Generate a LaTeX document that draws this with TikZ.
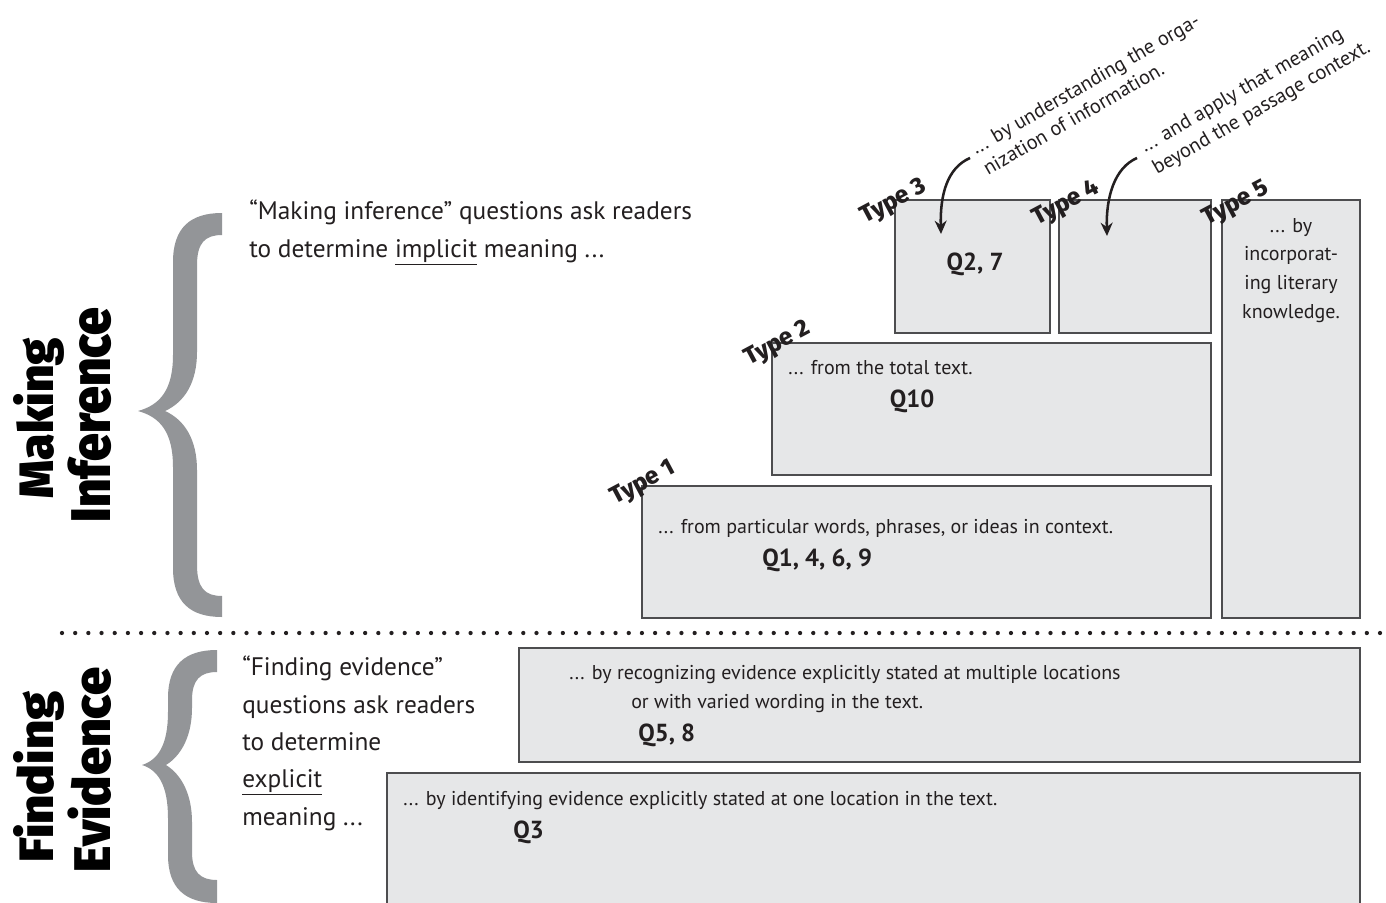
\documentclass[tikz,border=0pt]{standalone}
\usepackage{fontspec}
\usetikzlibrary{arrows.meta}
\setmainfont{PT Sans}
\IfFontExistsTF{Fira Sans Black}{\newfontfamily\heavyfont{Fira Sans Black}}{\newfontfamily\heavyfont{DejaVu Sans}[UprightFont=* Bold]}
\IfFontExistsTF{Fira Sans ExtraBold}{\newfontfamily\typefont{Fira Sans ExtraBold}}{\newfontfamily\typefont{PT Sans}[UprightFont=* Bold]}
\definecolor{txt}{HTML}{231F20}
\definecolor{boxfill}{HTML}{E6E7E8}
\definecolor{boxline}{HTML}{4D4D4F}
\definecolor{bracegray}{HTML}{939598}
\tikzset{
  ibox/.style={draw=boxline, fill=boxfill, line width=1pt},
  body/.style={font=\fontsize{19}{22}\selectfont, text=txt, inner sep=0pt, anchor=base west},
  boxtxt/.style={font=\fontsize{15}{18}\selectfont, text=txt, inner sep=0pt, anchor=base west},
  ctrtxt/.style={font=\fontsize{15}{18}\selectfont, text=txt, inner sep=0pt, anchor=base},
  qtxt/.style={font=\bfseries\fontsize{18.5}{21}\selectfont, text=txt, inner sep=0pt, anchor=base west},
  typelbl/.style={font=\typefont\fontsize{18}{20}\selectfont, text=txt, rotate=28, anchor=base west, inner sep=0pt},
  slanttxt/.style={font=\fontsize{15.3}{18}\selectfont, text=txt, rotate=30, anchor=base west, inner sep=0pt},
  titletxt/.style={rotate=90, anchor=base, inner sep=0pt, text=black},
  bracefill/.style={fill=bracegray},
  pointer/.style={draw=txt, line width=1.9pt, -{Stealth[length=10pt,width=9pt]}},
  dotline/.style={draw=txt, line width=3.2pt, line cap=round, dash pattern=on 0pt off 9.885pt}
}
\begin{document}
\begin{tikzpicture}[x=0.75pt,y=-0.75pt]
\fill[white] (0,0) rectangle (1386,903);
\useasboundingbox (0,0) rectangle (1386,903);

% titles
\node[titletxt] (making) at (53,418) {\resizebox{120pt}{30pt}{\heavyfont Making}};
\node[titletxt] (inference) at (110,415) {\resizebox{160.5pt}{32pt}{\heavyfont Inference}};
\node[titletxt] (finding) at (53,777) {\resizebox{128pt}{30pt}{\heavyfont Finding}};
\node[titletxt] (evidence) at (110,770) {\resizebox{153pt}{32pt}{\heavyfont Evidence}};

% braces
\fill[bracefill] (222,213) .. controls (190,213) and (173,228) .. (173,262)
  -- (173,355) .. controls (173,390) and (160,405) .. (138,411)
  .. controls (160,417) and (173,432) .. (173,467)
  -- (173,568) .. controls (173,602) and (190,617) .. (222,617)
  -- (222,596) .. controls (205,596) and (197,588) .. (197,565)
  -- (197,470) .. controls (197,440) and (185,420) .. (165,411)
  .. controls (185,402) and (197,382) .. (197,352)
  -- (197,265) .. controls (197,243) and (205,235) .. (222,235) -- cycle;
\fill[bracefill] (217,650) .. controls (185,650) and (168,665) .. (168,698)
  -- (168,712) .. controls (168,745) and (158,760) .. (142,765)
  .. controls (158,770) and (168,785) .. (168,818)
  -- (168,855) .. controls (168,888) and (185,903) .. (217,903)
  -- (217,880) .. controls (200,880) and (192,872) .. (192,852)
  -- (192,822) .. controls (192,795) and (182,775) .. (166,765)
  .. controls (182,755) and (192,735) .. (192,708)
  -- (192,700) .. controls (192,680) and (200,672) .. (217,672) -- cycle;

% intro texts
\node[body] (mi1) at (249,219) {“Making inference” questions ask readers};
\node[body] (mi2) at (249,257) {to determine \underline{implicit} meaning ...};
\node[body] (fe1) at (242,675) {“Finding evidence”};
\node[body] (fe2) at (242,713) {questions ask readers};
\node[body] (fe3) at (242,750) {to determine};
\node[body] (fe4) at (242,787) {\underline{explicit}};
\node[body] (fe5) at (242,825) {meaning ...};

% divider
\coordinate (divL) at (62,633);
\coordinate (divR) at (1380,633);
\draw[dotline] (divL) -- (divR);

% boxes
\path[ibox] (895,200) rectangle (1050,333);
\path[ibox] (1059,200) rectangle (1211,333);
\path[ibox] (1222,200) rectangle (1360,618);
\path[ibox] (772,343) rectangle (1211,475);
\path[ibox] (642,486) rectangle (1211,618);
\path[ibox] (519,648) rectangle (1360,762);
\path[ibox] (387,773) rectangle (1360,912);

% box texts
\node[qtxt, anchor=base] (q27) at (975,270) {Q2, 7};
\node[ctrtxt] (t5a) at (1291,232) {... by};
\node[ctrtxt] (t5b) at (1291,260) {incorporat-};
\node[ctrtxt] (t5c) at (1291,289) {ing literary};
\node[ctrtxt] (t5d) at (1291,318) {knowledge.};
\node[boxtxt] (t2a) at (788,374) {... from the total text.};
\node[qtxt, anchor=base] (q10) at (912,407) {Q10};
\node[boxtxt] (t1a) at (658,533) {... from particular words, phrases, or ideas in context.};
\node[qtxt] (q1469) at (762,566) {Q1, 4, 6, 9};
\node[boxtxt] (fa1) at (569,679) {... by recognizing evidence explicitly stated at multiple locations};
\node[boxtxt] (fa2) at (631,708) {or with varied wording in the text.};
\node[qtxt] (q58) at (638,741) {Q5, 8};
\node[boxtxt] (fb1) at (403,805) {... by identifying evidence explicitly stated at one location in the text.};
\node[qtxt] (q3) at (513,838) {Q3};

% type labels
\node[typelbl] (ty1) at (615,505) {Type 1};
\node[typelbl] (ty2) at (749,366) {Type 2};
\node[typelbl] (ty3) at (865,224) {Type 3};
\node[typelbl] (ty4) at (1037,226) {Type 4};
\node[typelbl] (ty5) at (1207,226) {Type 5};

% slanted annotations
\node[slanttxt] (s3a) at (976,155) {... by understanding the orga-};
\node[slanttxt] (s3b) at (988,176) {nization of information.};
\node[slanttxt] (s4a) at (1145,153) {... and apply that meaning};
\node[slanttxt] (s4b) at (1157,175) {beyond the passage context.};

% pointers
\coordinate (p3s) at (970,158);
\coordinate (p3e) at (941,234);
\coordinate (p4s) at (1137,158);
\coordinate (p4e) at (1107,236);
\draw[pointer] (p3s) .. controls (947,168) and (940,195) .. (p3e);
\draw[pointer] (p4s) .. controls (1114,168) and (1106,198) .. (p4e);
\end{tikzpicture}
\end{document}
